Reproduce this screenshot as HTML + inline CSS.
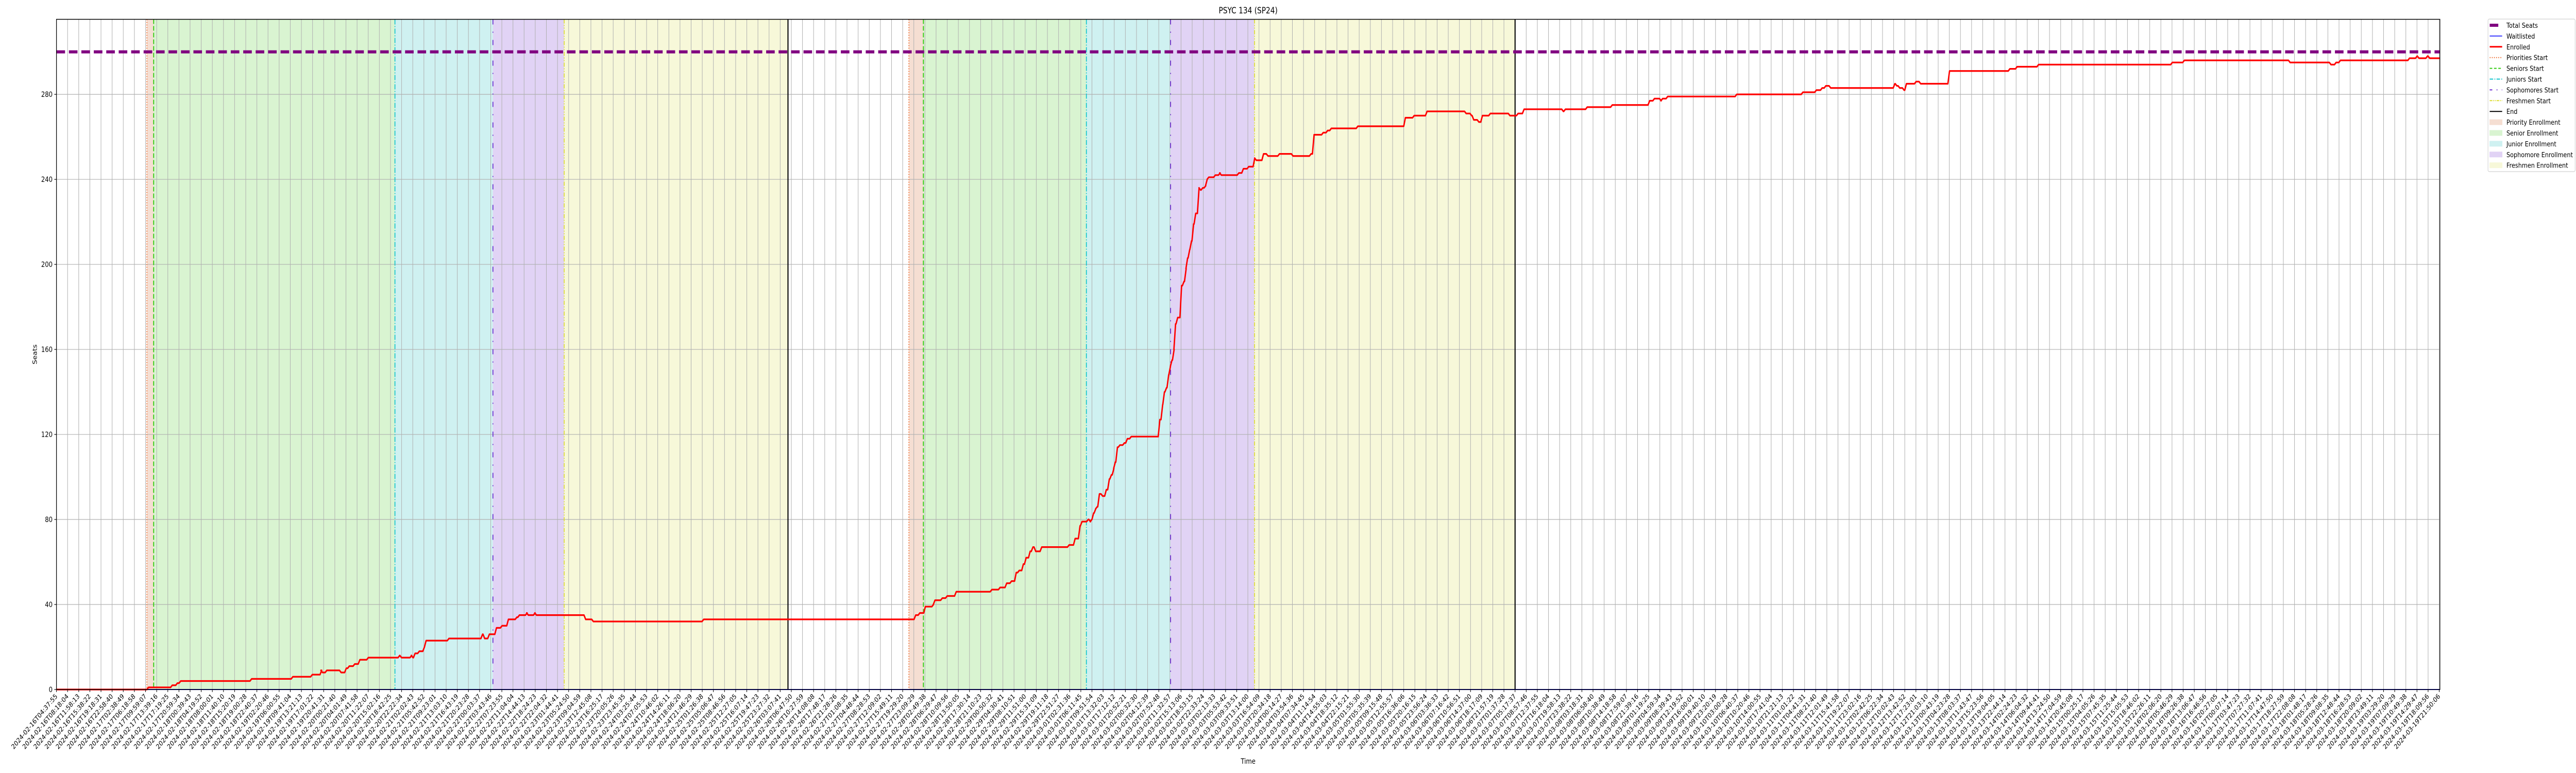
<!DOCTYPE html>
<html><head><meta charset="utf-8"><style>
html,body{margin:0;padding:0;background:#fff;width:100%;height:100%;overflow:hidden;}
svg{display:block;width:100vw;height:100vh;font-family:"DejaVu Sans","Liberation Sans",sans-serif;}
</style></head><body>
<svg id="chart" viewBox="0 0 6000 1500" preserveAspectRatio="none" xmlns="http://www.w3.org/2000/svg">
<rect width="6000" height="1500" fill="#fff"/>
<g id="spans"></g><g id="grid"></g><g id="vlines"></g><g id="series"></g><g id="axes"></g><g id="legend"></g>
</svg>
<script>
// ---- data ----
const totalSeats = 300;
const enrollTimes = [0,8.12,10.25,10.71,11.01,17.38,21.08,22.83,23.67,23.75,24.13,25.42,25.88,26.15,26.64,27.1,27.86,30.68,30.84,31.75,31.87,32.06,32.44,32.9,33.05,35.1,38.12,38.31,38.73,39.37,39.87,40.44,41.2,41.43,42.12,42.23,42.84,42.96,47.38,48.07,57.98,
77.02,77.39,77.89,78.62,78.75,79.41,79.85,80.66,83.86,84.6,85.19,85.63,86.05,86.32,86.69,86.94,87.3,87.55,87.8,88.34,90.8,91.34,91.78,91.96,92.52,92.72,92.84,
93.0,93.19,93.33,93.52,93.81,94.14,94.41,94.6,94.82,94.95,95.14,95.36,95.76,96.03,96.38,98.95,99.2,99.36,99.55,99.74,99.9,100.04,100.23,100.36,100.55,100.9,101.12,101.31,101.44,101.63,101.79,101.98,102.17,102.47,102.61,102.8,103.07,103.2,103.34,103.93,104.36,104.47,106.04,106.45,106.93,107.47,107.61,108.26,108.66,109.69,110.91,112.53,112.8,113.62,114.02,114.35,116.73,121.0,121.79,122.95,126.46,126.95,127.14,127.6,127.92,128.63,130.39,131.12,131.66,
135.19,135.37,137.33,139.58,142.94,143.37,143.97,144.1,144.56,150.76,156.7,157.91,158.43,158.76,159.2,164.96,165.14,165.4,165.79,166.0,166.87,167.28,169.87,
175.29,175.94,177.87,189.88,190.96,200.46,204.13,204.59,204.98,211.18,211.87,212.03,212.8,212.99];
const enrollValues = [0,1,2,3,4,5,6,7,9,8,9,8,10,11,12,14,15,16,15,16,15,17,18,20,23,24,26,24,26,29,30,33,34,35,36,35,36,35,33,32,33,
35,36,39,40,42,43,44,46,47,48,50,51,55,56,59,62,65,67,65,67,68,71,77,79,80,79,80,
83,85,86,92,91,94,99,101,104,107,114,115,116,118,119,127,134,140,142,148,152,155,160,172,175,190,192,198,203,207,211,219,224,236,235,236,237,240,241,242,243,242,243,245,246,250,249,252,251,252,251,252,261,262,263,264,265,269,270,272,271,270,268,267,270,271,270,271,273,
272,273,274,275,277,278,277,278,279,280,281,282,283,284,283,285,284,283,282,285,286,285,291,
292,293,294,295,296,295,294,295,296,297,298,297,298,297];
const waitTimes = [0, 214.06];
const waitValues = [0, 0];
const phaseNames = ["Priorities Start","Seniors Start","Juniors Start","Sophomores Start","Freshmen Start","End"];
const phaseTimesA = [8.12, 8.73, 30.4, 39.2, 45.6, 65.7];
const phaseTimesB = [76.56, 77.86, 92.5, 100.06, 107.6, 131.0];
const yTicks = [0,40,80,120,160,200,240,280];
const firstLabel = "2024-02-16T04:37:55";
const lastLabel = "2024-03-19T21:50:06";
const tickCount = 215;

// ---- scales ----
const L=131.5, R=5683, T=37.5, B=1338;
const XMAX=214.06, YMAX=315.3;
const sx = t => L + t*(R-L)/XMAX;
const sy = v => B - v*(B-T)/YMAX;
const NS="http://www.w3.org/2000/svg";
function mk(tag, attrs, parent){const e=document.createElementNS(NS,tag);for(const k in attrs)e.setAttribute(k,attrs[k]);parent.appendChild(e);return e;}
const gS=document.getElementById('spans'),gG=document.getElementById('grid'),gV=document.getElementById('vlines'),gSe=document.getElementById('series'),gA=document.getElementById('axes'),gL=document.getElementById('legend');

const spanColors=["#f5ded2","#d9f4d1","#cff1f1","#e1d3f5","#f7f8d9"];
const spanNames=["priority-enrollment-span","senior-enrollment-span","junior-enrollment-span","sophomore-enrollment-span","freshmen-enrollment-span"];
[phaseTimesA,phaseTimesB].forEach((pt,ci)=>{
  for(let i=0;i<5;i++){
    const r=mk('rect',{x:sx(pt[i]),y:T,width:sx(pt[i+1])-sx(pt[i]),height:B-T,fill:spanColors[i]},gS);
    
    
  }
});
// grid
for(let i=0;i<tickCount;i++){
  const l=mk('line',{x1:sx(i),x2:sx(i),y1:T,y2:B,stroke:"#b0b0b0","stroke-width":1.2},gG);
  
  
}
yTicks.forEach(v=>{
  const l=mk('line',{x1:L,x2:R,y1:sy(v),y2:sy(v),stroke:"#b0b0b0","stroke-width":1.2},gG);
  
  
});
// phase lines
const lineStyles=[{c:"#ee6a2c",d:"2,3",w:2},{c:"#33cc11",d:"9,4",w:2.2},{c:"#11c4cc",d:"10,3,2,3",w:2},{c:"#6a2bcf",d:"10,14,2,14",w:2},{c:"#dddd33",d:"8,3,2,3,2,3",w:2},{c:"#000",d:"none",w:2.5}];
[phaseTimesA,phaseTimesB].forEach((pt,ci)=>{
  pt.forEach((t,i)=>{
    const s=lineStyles[i];
    const l=mk('line',{x1:sx(t),x2:sx(t),y1:T,y2:B,stroke:s.c,"stroke-width":s.w,"stroke-dasharray":s.d},gV);
    
    
  });
});
// total seats
const ts=mk('line',{x1:L,x2:R,y1:sy(totalSeats),y2:sy(totalSeats),stroke:"#800080","stroke-width":6,"stroke-dasharray":"20,9"},gSe);


// waitlisted
let wd="";waitTimes.forEach((t,i)=>{wd+=(i?"L":"M")+sx(t)+","+sy(waitValues[i]);});
const wl=mk('path',{d:wd,stroke:"#0000ff","stroke-width":2,fill:"none"},gSe);


// enrolled
let ed="M"+sx(enrollTimes[0])+","+sy(enrollValues[0]);
for(let i=1;i<enrollTimes.length;i++){
  ed+="L"+sx(enrollTimes[i])+","+sy(enrollValues[i-1])+"L"+sx(enrollTimes[i]+0.15)+","+sy(enrollValues[i]);
}
ed+="L"+sx(XMAX)+","+sy(enrollValues[enrollValues.length-1]);
const el=mk('path',{d:ed,stroke:"#ff0000","stroke-width":3.2,fill:"none","stroke-linejoin":"round"},gSe);


// frame
const fr=mk('rect',{x:L,y:T,width:R-L,height:B-T,fill:"none",stroke:"#000","stroke-width":1.5},gA);


// y ticks
yTicks.forEach(v=>{
  mk('line',{x1:L-5,x2:L,y1:sy(v),y2:sy(v),stroke:"#000","stroke-width":1.2},gA);
  const t=mk('text',{x:L-9,y:sy(v)+5,"text-anchor":"end","font-size":14},gA);
  t.textContent=v;
  
  
});
// x labels
function parseTS(s){return Date.UTC(+s.slice(0,4),+s.slice(5,7)-1,+s.slice(8,10),+s.slice(11,13),+s.slice(14,16),+s.slice(17,19));}
const t0=parseTS(firstLabel),t1=parseTS(lastLabel);
const p2=n=>String(n).padStart(2,'0');
for(let i=0;i<tickCount;i++){
  const x=sx(i);
  mk('line',{x1:x,x2:x,y1:B,y2:B+5,stroke:"#000","stroke-width":1.2},gA);
  const d=new Date(t0+(t1-t0)*i/(tickCount-1));
  const lab=d.getUTCFullYear()+"-"+p2(d.getUTCMonth()+1)+"-"+p2(d.getUTCDate())+"T"+p2(d.getUTCHours())+":"+p2(d.getUTCMinutes())+":"+p2(d.getUTCSeconds());
  const t=mk('text',{x:x+3,y:B+14,"text-anchor":"end","font-size":13.3,transform:`rotate(-45 ${x+3} ${B+14})`},gA);
  t.textContent=lab;
  
  
}
// titles
const ti=mk('text',{x:(L+R)/2,y:26,"text-anchor":"middle","font-size":16.5},gA);ti.textContent="PSYC 134 (SP24)";


const xl=mk('text',{x:(L+R)/2,y:1482,"text-anchor":"middle","font-size":14},gA);xl.textContent="Time";


const yl=mk('text',{x:86,y:(T+B)/2,"text-anchor":"middle","font-size":14,transform:`rotate(-90 86 ${(T+B)/2})`},gA);yl.textContent="Seats";


// legend
const lb=mk('rect',{x:5795,y:37,width:203,height:296,fill:"#fff",stroke:"#d0d0d0","stroke-width":1.2,rx:3},gL);


const legendItems=[
 {n:"Total Seats",t:"line",c:"#800080",w:6,d:"none"},
 {n:"Waitlisted",t:"line",c:"#0000ff",w:1.5,d:"none"},
 {n:"Enrolled",t:"line",c:"#ff0000",w:3,d:"none"},
 {n:"Priorities Start",t:"line",c:"#ee6a2c",w:2,d:"2,3"},
 {n:"Seniors Start",t:"line",c:"#33cc11",w:2,d:"6,4"},
 {n:"Juniors Start",t:"line",c:"#11c4cc",w:2,d:"8,3,2,3"},
 {n:"Sophomores Start",t:"line",c:"#6a2bcf",w:2,d:"6,10,2,10"},
 {n:"Freshmen Start",t:"line",c:"#dddd33",w:2,d:"6,2,2,2,2,2"},
 {n:"End",t:"line",c:"#000",w:2,d:"none"},
 {n:"Priority Enrollment",t:"patch",c:spanColors[0]},
 {n:"Senior Enrollment",t:"patch",c:spanColors[1]},
 {n:"Junior Enrollment",t:"patch",c:spanColors[2]},
 {n:"Sophomore Enrollment",t:"patch",c:spanColors[3]},
 {n:"Freshmen Enrollment",t:"patch",c:spanColors[4]}];
legendItems.forEach((it,i)=>{
  const y=49+i*20.9;
  const g=mk('g',{},gL);
  
  
  if(it.t==="line"){
    const w=it.n==="Total Seats"?20:29;
    mk('line',{x1:5799,x2:5799+w,y1:y,y2:y,stroke:it.c,"stroke-width":it.w,"stroke-dasharray":it.d},g);
  } else {
    mk('rect',{x:5799,y:y-5,width:29,height:10,fill:it.c,stroke:it.c},g);
  }
  const t=mk('text',{x:5838,y:y+5,"font-size":13.5},g);t.textContent=it.n;
});
</script>
</body></html>
